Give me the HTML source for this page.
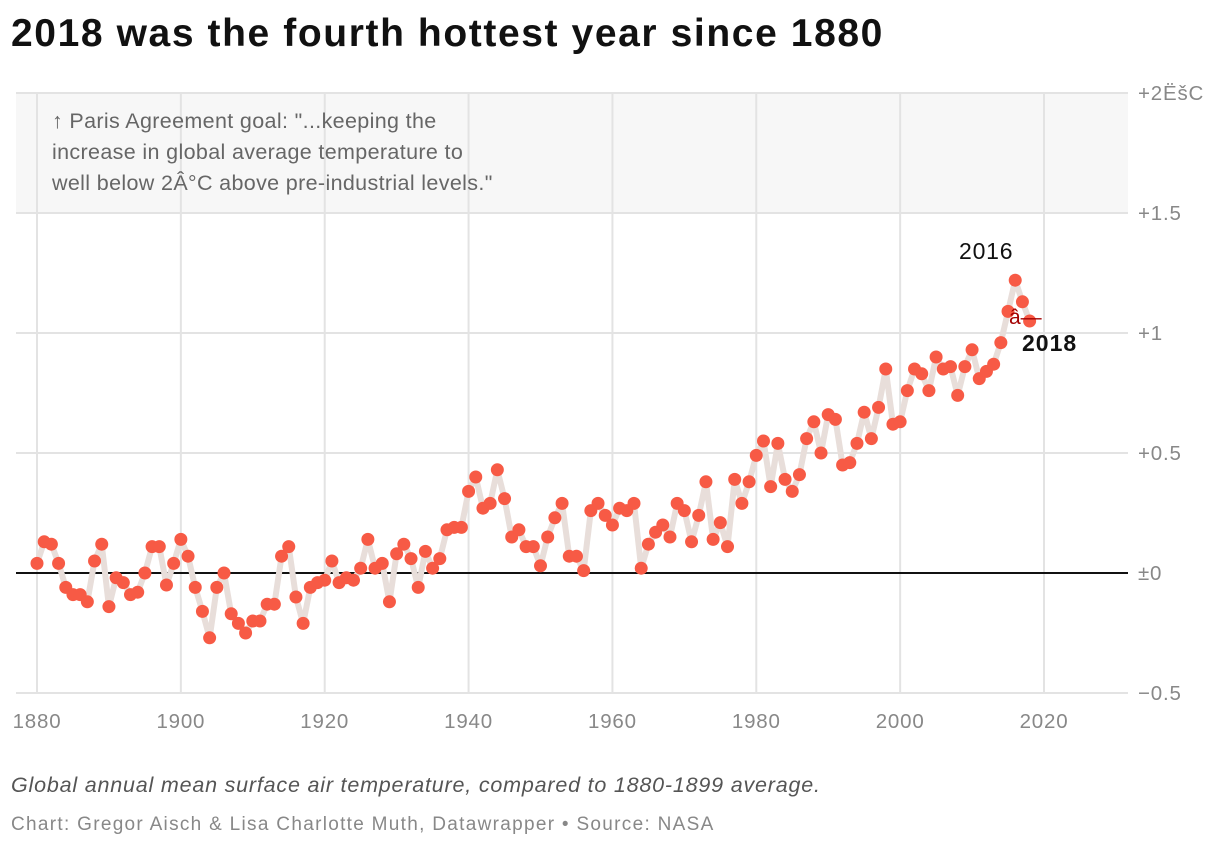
<!DOCTYPE html>
<html><head><meta charset="utf-8">
<style>
body{margin:0;background:#fff;font-family:"Liberation Sans",sans-serif;width:1220px;height:848px;overflow:hidden;position:relative}
#title{position:absolute;left:11px;top:12px;font-size:39px;letter-spacing:1.6px;font-weight:bold;color:#111;margin:0}
#note{position:absolute;left:11px;top:773px;font-size:21.5px;letter-spacing:0.8px;font-style:italic;color:#555}
#credit{position:absolute;left:11px;top:814px;font-size:19px;letter-spacing:1.3px;color:#888}
svg{position:absolute;left:0;top:0}
</style></head><body>
<h1 id="title">2018 was the fourth hottest year since 1880</h1>
<svg id="chart" width="1220" height="848"></svg>
<div id="note">Global annual mean surface air temperature, compared to 1880-1899 average.</div>
<div id="credit">Chart: Gregor Aisch &amp; Lisa Charlotte Muth, Datawrapper • Source: NASA</div>
<script>
const startYear = 1880;
const temps = [.04,.13,.12,.04,-.06,-.09,-.09,-.12,.05,.12,-.14,-.02,-.04,-.09,-.08,0,.11,.11,-.05,.04,
.14,.07,-.06,-.16,-.27,-.06,0,-.17,-.21,-.25,-.2,-.2,-.13,-.13,.07,.11,-.10,-.21,-.06,-.04,
-.03,.05,-.04,-.02,-.03,.02,.14,.02,.04,-.12,.08,.12,.06,-.06,.09,.02,.06,.18,.19,.19,
.34,.40,.27,.29,.43,.31,.15,.18,.11,.11,.03,.15,.23,.29,.07,.07,.01,.26,.29,.24,
.20,.27,.26,.29,.02,.12,.17,.20,.15,.29,.26,.13,.24,.38,.14,.21,.11,.39,.29,.38,
.49,.55,.36,.54,.39,.34,.41,.56,.63,.50,.66,.64,.45,.46,.54,.67,.56,.69,.85,.62,
.63,.76,.85,.83,.76,.90,.85,.86,.74,.86,.93,.81,.84,.87,.96,1.09,1.22,1.13,1.05];
const xTicks = [1880,1900,1920,1940,1960,1980,2000,2020];
const yTicks = [-0.5,0,0.5,1,1.5,2];
const yLabels = ["−0.5","±0","+0.5","+1","+1.5","+2ËšC"];

const NS="http://www.w3.org/2000/svg";
const svg=document.getElementById('chart');
const X=y=>37+(y-1880)*(1044-37)/140;
const Y=v=>573-v*240;
function mk(tag,attrs,parent){const e=document.createElementNS(NS,tag);for(const k in attrs)e.setAttribute(k,attrs[k]);(parent||svg).appendChild(e);return e;}

const band=mk('rect',{x:16,y:Y(2),width:1112,height:Y(1.5)-Y(2),fill:'#f7f7f7'});



xTicks.forEach(t=>{
  const l=mk('line',{x1:X(t),x2:X(t),y1:94,y2:692,stroke:'#e3e3e3','stroke-width':2});
  
  
  const tx=mk('text',{x:X(t),y:728,'text-anchor':'middle','font-size':20.5,'letter-spacing':0.8,fill:'#888'});
  tx.textContent=t;
  
  
});
yTicks.forEach((t,i)=>{
  const l=mk('line',{x1:16,x2:1128,y1:Y(t),y2:Y(t),stroke:t===0?'#111':'#e3e3e3','stroke-width':2});
  
  
  const tx=mk('text',{x:1138,y:Y(t)+7,'font-size':20.5,'letter-spacing':0.8,fill:'#888'});
  tx.textContent=yLabels[i];
  
  
});

const ann=mk('text',{x:52,y:128,'font-size':21.5,'letter-spacing':0.35,fill:'#666'});


["↑ Paris Agreement goal: \"...keeping the","increase in global average temperature to","well below 2Â°C above pre-industrial levels.\""].forEach((s,i)=>{
  const ts=mk('tspan',{x:52,dy:i?31:0},ann);ts.textContent=s;
});

const pts=temps.map((v,i)=>X(startYear+i)+','+Y(v)).join(' ');
const line=mk('polyline',{points:pts,fill:'none',stroke:'#e8deda','stroke-width':6,'stroke-linejoin':'round'});


temps.forEach((v,i)=>{
  const c=mk('circle',{cx:X(startYear+i),cy:Y(v),r:6.5,fill:'#f75a45'});
  
  
});

const l16=mk('text',{x:959,y:259,'font-size':23,'letter-spacing':0.8,fill:'#111'});
l16.textContent='2016';


const mark=mk('text',{x:1009,y:324,'font-size':21,fill:'#a30000'});
mark.textContent='â—';


const l18=mk('text',{x:1022,y:351,'font-size':23,'letter-spacing':1,'font-weight':'bold',fill:'#111'});
l18.textContent='2018';


</script>
</body></html>
